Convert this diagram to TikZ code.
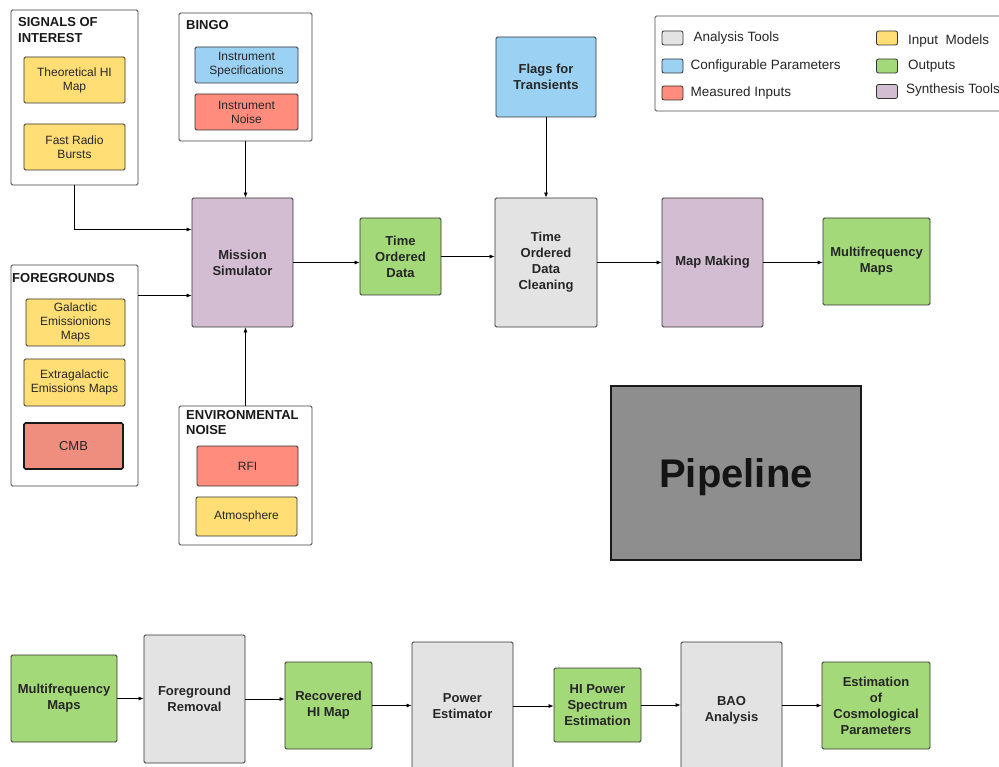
\documentclass[tikz,border=0pt]{standalone}
\usepackage{fontspec}
\setmainfont{Liberation Sans}
\usetikzlibrary{positioning,arrows.meta}
\definecolor{boxline}{HTML}{333333}
\definecolor{toolgray}{HTML}{E3E3E3}
\definecolor{parblue}{HTML}{9BD2F3}
\definecolor{measred}{HTML}{FF8C7D}
\definecolor{cmbred}{HTML}{EF8E7E}
\definecolor{inyellow}{HTML}{FFDF75}
\definecolor{outgreen}{HTML}{A3D978}
\definecolor{synpurple}{HTML}{D3BDD3}
\definecolor{pipegray}{HTML}{8E8E8E}
\begin{document}
\begin{tikzpicture}[x=1pt,y=-1pt,
  size/.style 2 args={minimum width=#1pt,minimum height=#2pt},
  box/.style={draw=boxline,line width=0.8pt,rounded corners=1.5pt,align=center,inner sep=1pt,text=black!85},
  big/.style={box,font=\fontsize{13}{16}\selectfont\bfseries},
  small/.style={box,font=\fontsize{12}{14}\selectfont},
  group/.style={draw=black!75,line width=0.8pt,rounded corners=1.5pt,fill=white},
  title/.style={anchor=north west,align=left,inner sep=0pt,text=black!90,font=\fontsize{13}{15.5}\selectfont\bfseries},
  swatch/.style={draw=boxline,line width=0.8pt,rounded corners=2pt,size={21}{14},inner sep=0pt},
  key/.style={anchor=west,inner sep=0pt,text=black!85,font=\fontsize{13.5}{16}\selectfont},
  arr/.style={-{Latex[length=5pt,width=4pt]},line width=0.7pt}]
\clip (0,0) rectangle (999,767);

% inputs feeding the simulator
\node[group,size={127}{175}] (soi) at (74.5,97.5) {};
\node[title] (soititle) at (18,17.5) {SIGNALS OF\\INTEREST};
\node[small,fill=inyellow,size={101}{46}] (thhi) at (74.5,80) {Theoretical HI\\Map};
\node[small,fill=inyellow,size={101}{46}] (frb) at (74.5,147) {Fast Radio\\Bursts};

\node[group,size={133}{128}] (bingo) at (245.5,77) {};
\node[title] (bingotitle) at (186,20.5) {BINGO};
\node[small,fill=parblue,size={103}{36}] (ispec) at (246.5,65) {Instrument\\Specifications};
\node[small,fill=measred,size={103}{36}] (inoise) at (246.5,112) {Instrument\\Noise};

\node[group,size={127}{221}] (fg) at (74.5,375.5) {};
\node[title] (fgtitle) at (12,273.5) {FOREGROUNDS};
\node[small,fill=inyellow,size={99}{47}] (gal) at (75.5,322.5) {Galactic\\Emissionions\\Maps};
\node[small,fill=inyellow,size={101}{47}] (exgal) at (74.5,382.5) {Extragalactic\\Emissions Maps};
\node[small,fill=cmbred,draw=black!90,line width=1.6pt,size={99}{46},font=\fontsize{13}{16}\selectfont] (cmb) at (73.5,446) {CMB};

\node[group,size={133}{139}] (env) at (245.5,475.5) {};
\node[title] (envtitle) at (186,410) {ENVIRONMENTAL\\NOISE};
\node[small,fill=measred,size={101}{40}] (rfi) at (247.5,466) {RFI};
\node[small,fill=inyellow,size={101}{39}] (atm) at (246.5,516.5) {Atmosphere};

% top chain
\node[big,fill=synpurple,size={101}{129}] (mission) at (242.5,262.5) {Mission\\Simulator};
\node[big,fill=outgreen,size={81}{77}] (tod) at (400.5,256.5) {Time\\Ordered\\Data};
\node[big,fill=toolgray,size={102}{129}] (todc) at (546,262.5) {Time\\Ordered\\Data\\Cleaning};
\node[big,fill=parblue,size={100}{80}] (flags) at (546,77) {Flags for\\Transients};
\node[big,fill=synpurple,size={101}{129}] (mapmk) at (712.5,262.5) {Map Making};
\node[big,fill=outgreen,size={107}{87}] (mfm) at (876.5,261.5) {Multifrequency\\Maps};

\draw[arr] (soi.south) |- ([yshift=33pt]mission.west);
\draw[arr] ([yshift=-33pt]mission.west -| fg.east) -- ([yshift=-33pt]mission.west);
\draw[arr] (bingo.south) -- (bingo.south |- mission.north);
\draw[arr] (env.north) -- (env.north |- mission.south);
\draw[arr] (mission.east) -- (mission.east -| tod.west);
\draw[arr] (tod.east) -- (tod.east -| todc.west);
\draw[arr] (flags.south) -- (todc.north);
\draw[arr] (todc.east) -- (mapmk.west);
\draw[arr] (mapmk.east) -- (mapmk.east -| mfm.west);

% legend
\node[group,draw=black!70,size={350}{95}] (legend) at (830,63.5) {};
\node[swatch,fill=toolgray] (swan) at (672.5,38) {};
\node[swatch,fill=parblue] (swpar) at (672.5,66) {};
\node[swatch,fill=measred] (swmeas) at (672.5,93) {};
\node[swatch,fill=inyellow] (swin) at (887,38) {};
\node[swatch,fill=outgreen] (swout) at (887,66) {};
\node[swatch,fill=synpurple] (swsyn) at (887,91.5) {};
\node[key,right=10pt of swan] (keyan) {Analysis Tools};
\node[key,right=7pt of swpar] (keypar) {Configurable Parameters};
\node[key,right=7pt of swmeas] (keymeas) {Measured Inputs};
\node[key,right=10pt of swin,yshift=-3pt] (keyin) {Input\ \ Models};
\node[key,right=10pt of swout] (keyout) {Outputs};
\node[key,right=8pt of swsyn,yshift=1.5pt] (keysyn) {Synthesis Tools};

\node[draw=black!90,line width=1.3pt,fill=pipegray,size={250}{174},text depth=0pt,text=black!92,font=\fontsize{40}{48}\selectfont\bfseries] (pipeline) at (736,473) {Pipeline};

% bottom chain
\node[big,fill=outgreen,size={106}{87}] (mfmb) at (64,698.5) {Multifrequency\\Maps};
\node[big,fill=toolgray,size={101}{128}] (fgr) at (194.5,699) {Foreground\\Removal};
\node[big,fill=outgreen,size={87}{87}] (rhi) at (328.5,705.5) {Recovered\\HI Map};
\node[big,fill=toolgray,size={101}{128}] (pest) at (462.5,706) {Power\\Estimator};
\node[big,fill=outgreen,size={87}{74}] (hips) at (597.5,705) {HI Power\\Spectrum\\Estimation};
\node[big,fill=toolgray,size={101}{136}] (bao) at (731.5,710) {BAO\\Analysis};
\node[big,fill=outgreen,size={108}{87}] (ecp) at (876,705.5) {Estimation\\of\\Cosmological\\Parameters};

\draw[arr] (mfmb.east) -- (mfmb.east -| fgr.west);
\draw[arr] (fgr.east) -- (fgr.east -| rhi.west);
\draw[arr] (rhi.east) -- (rhi.east -| pest.west);
\draw[arr] (pest.east) -- (pest.east -| hips.west);
\draw[arr] (hips.east) -- (hips.east -| bao.west);
\draw[arr] (ecp.west -| bao.east) -- (ecp.west);
\end{tikzpicture}
\end{document}
